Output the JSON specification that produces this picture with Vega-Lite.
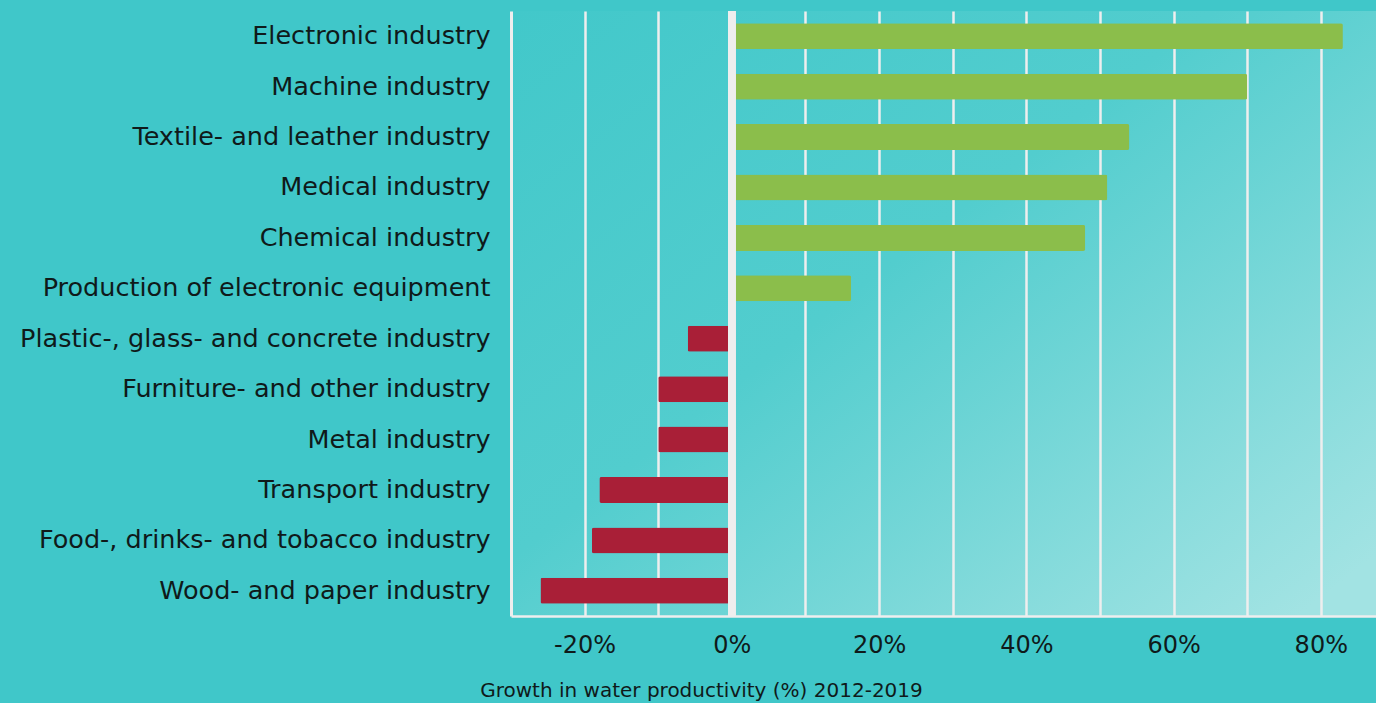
{
  "$schema": "https://vega.github.io/schema/vega-lite/v6.json",
  "width": 865,
  "height": 605,
  "autosize": {"type": "none"},
  "padding": {"left": 511, "top": 11, "right": 0, "bottom": 87},
  "background": "#40C7C9",
  "config": {
    "view": {
      "stroke": null,
      "fill": {
        "gradient": "linear",
        "x1": 0, "y1": 0, "x2": 1, "y2": 0.9,
        "stops": [
          {"offset": 0, "color": "#42C8CA"},
          {"offset": 0.45, "color": "#52CDCE"},
          {"offset": 1, "color": "#A2E3E3"}
        ]
      }
    },
    "font": "DejaVu Sans"
  },
  "data": {
    "values": [
      {"industry": "Electronic industry", "growth": 83},
      {"industry": "Machine industry", "growth": 70},
      {"industry": "Textile- and leather industry", "growth": 54},
      {"industry": "Medical industry", "growth": 51},
      {"industry": "Chemical industry", "growth": 48},
      {"industry": "Production of electronic equipment", "growth": 16.2},
      {"industry": "Plastic-, glass- and concrete industry", "growth": -6},
      {"industry": "Furniture- and other industry", "growth": -10},
      {"industry": "Metal industry", "growth": -10},
      {"industry": "Transport industry", "growth": -18},
      {"industry": "Food-, drinks- and tobacco industry", "growth": -19},
      {"industry": "Wood- and paper industry", "growth": -26}
    ]
  },
  "layer": [
    {
      "mark": {"type": "bar", "size": 26, "cornerRadius": 2},
      "encoding": {
        "y": {
          "field": "industry",
          "type": "nominal",
          "sort": null,
          "axis": {
            "title": null,
            "ticks": false,
            "domainColor": "#EEEEEE",
            "domainWidth": 3,
            "labelFont": "DejaVu Sans",
            "labelFontSize": 25.5,
            "labelColor": "#0F1A1A",
            "labelPadding": 21,
            "labelLimit": 520
          }
        },
        "x": {
          "field": "growth",
          "type": "quantitative",
          "scale": {"domain": [-30, 87.5], "nice": false, "zero": false},
          "axis": {
            "values": [-20, -10, 0, 10, 20, 30, 40, 50, 60, 70, 80],
            "labelExpr": "datum.value % 20 == 0 ? datum.value + '%' : ''",
            "grid": true,
            "gridColor": "#EEEEEE",
            "gridWidth": 2.5,
            "ticks": false,
            "domainColor": "#EEEEEE",
            "domainWidth": 2.5,
            "labelFont": "DejaVu Sans",
            "labelFontSize": 24,
            "labelColor": "#0F1A1A",
            "labelPadding": 17,
            "labelDx": 5,
            "labelFlush": false,
            "title": "Growth in water productivity (%) 2012-2019",
            "titleFont": "DejaVu Sans",
            "titleFontSize": 20,
            "titleFontWeight": "normal",
            "titleColor": "#0F1A1A",
            "titleX": 190,
            "titleY": 74,
            "titleAlign": "center",
            "titleBaseline": "middle"
          }
        },
        "color": {
          "condition": {"test": "datum.growth < 0", "value": "#A91F37"},
          "value": "#8BBE4B"
        }
      }
    },
    {
      "mark": {"type": "rule", "color": "#EEEEEE", "strokeWidth": 7, "strokeCap": "butt"},
      "encoding": {
        "x": {"datum": 0, "type": "quantitative"}
      }
    }
  ]
}
